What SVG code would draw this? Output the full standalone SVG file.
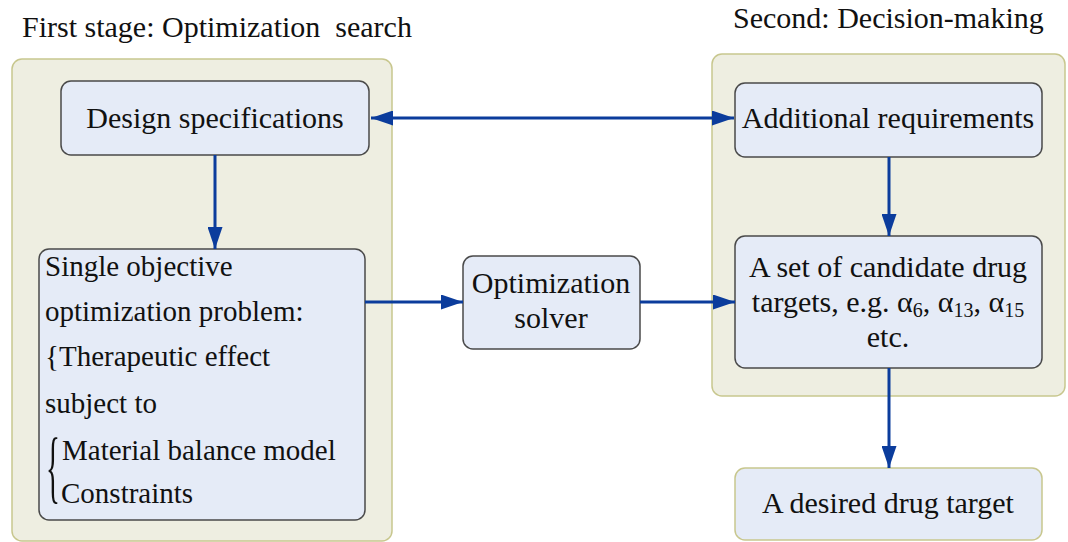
<svg xmlns="http://www.w3.org/2000/svg" width="1068" height="542" viewBox="0 0 1068 542">
<defs>
<marker id="ah" markerWidth="22" markerHeight="15" refX="22" refY="7.5" orient="auto-start-reverse" markerUnits="userSpaceOnUse">
<path d="M0,0 L22,7.5 L0,15 Z" fill="#0b3c9c"/>
</marker>
</defs>
<rect width="1068" height="542" fill="#ffffff"/>
<g font-family="Liberation Serif" font-size="30" fill="#111">
<g id="title-left"><text x="22" y="37">First stage: Optimization&#160; search</text></g>
<g id="title-right"><text x="733" y="28">Second: Decision-making</text></g>
</g>
<g id="panel-left"><rect x="12" y="59" width="380" height="482" rx="10" fill="#eeeee1" stroke="#c8c78e" stroke-width="1.5"/></g>
<g id="panel-right"><rect x="712" y="54" width="353" height="342" rx="10" fill="#eeeee1" stroke="#c8c78e" stroke-width="1.5"/></g>
<g font-family="Liberation Serif" font-size="30" fill="#111">
<g id="design-specs">
<rect x="61" y="81" width="308" height="74" rx="10" fill="#e5ebf7" stroke="#4a4a4a" stroke-width="1.5"/>
<text x="215" y="128" text-anchor="middle">Design specifications</text>
</g>
<g id="single-objective" font-size="29">
<rect x="39" y="249" width="326" height="271" rx="10" fill="#e5ebf7" stroke="#4a4a4a" stroke-width="1.5"/>
<text x="45" y="276">Single objective</text>
<text x="45" y="321">optimization problem:</text>
<text x="45" y="366">{Therapeutic effect</text>
<text x="45" y="413">subject to</text>
<text transform="translate(46,493) scale(1,2.8)">{</text>
<text x="62" y="460">Material balance model</text>
<text x="61" y="503">Constraints</text>
</g>
<g id="optimization-solver" text-anchor="middle">
<rect x="463" y="256" width="177" height="93" rx="10" fill="#e5ebf7" stroke="#4a4a4a" stroke-width="1.5"/>
<text x="551" y="293">Optimization</text>
<text x="551" y="328">solver</text>
</g>
<g id="additional-requirements" text-anchor="middle">
<rect x="735" y="83" width="307" height="74" rx="10" fill="#e5ebf7" stroke="#4a4a4a" stroke-width="1.5"/>
<text x="888" y="128">Additional requirements</text>
</g>
<g id="candidate-targets" text-anchor="middle">
<rect x="735" y="236" width="307" height="132" rx="10" fill="#e5ebf7" stroke="#4a4a4a" stroke-width="1.5"/>
<text x="888" y="277">A set of candidate drug</text>
<text x="888" y="312">targets, e.g. &#945;<tspan font-size="20" dy="5">6</tspan><tspan dy="-5">, &#945;</tspan><tspan font-size="20" dy="5">13</tspan><tspan dy="-5">, &#945;</tspan><tspan font-size="20" dy="5">15</tspan></text>
<text x="888" y="347">etc.</text>
</g>
<g id="desired-target" text-anchor="middle">
<rect x="735" y="468" width="307" height="72" rx="10" fill="#e5ebf7" stroke="#c8c78e" stroke-width="1.5"/>
<text x="888" y="513">A desired drug target</text>
</g>
</g>
<g id="connectors" stroke="#0b3c9c" stroke-width="3" fill="none">
<line x1="371" y1="118" x2="734" y2="118" marker-start="url(#ah)" marker-end="url(#ah)"/>
<line x1="215" y1="155" x2="215" y2="249" marker-end="url(#ah)"/>
<line x1="889" y1="157" x2="889" y2="236" marker-end="url(#ah)"/>
<line x1="365" y1="302" x2="463" y2="302" marker-end="url(#ah)"/>
<line x1="640" y1="302" x2="735" y2="302" marker-end="url(#ah)"/>
<line x1="889" y1="368" x2="889" y2="468" marker-end="url(#ah)"/>
</g>
</svg>
